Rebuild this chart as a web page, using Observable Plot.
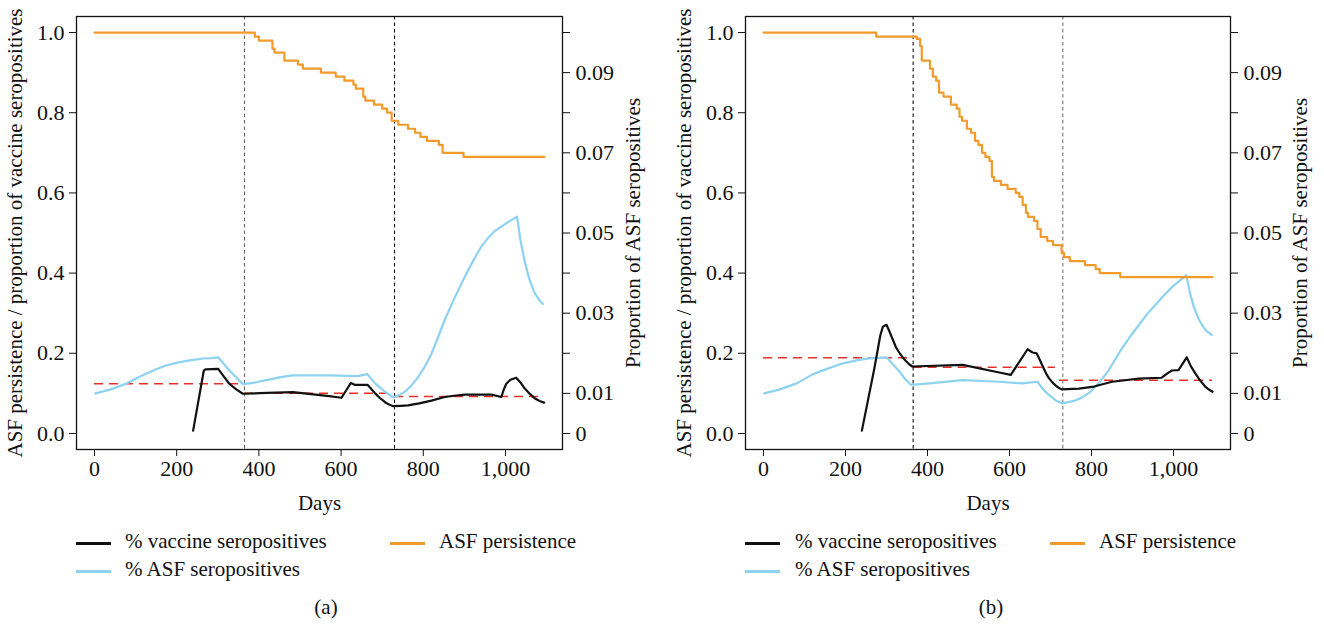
<!DOCTYPE html>
<html>
<head>
<meta charset="utf-8">
<script src="https://cdn.jsdelivr.net/npm/d3@7"></script>
<script src="https://cdn.jsdelivr.net/npm/@observablehq/plot@0.6"></script>
<style>
  body { margin: 0; background: #fff; font-family: "Liberation Serif", "DejaVu Serif", serif; }
  #wrap { position: relative; width: 1324px; height: 627px; overflow: hidden; }
  .panel { position: absolute; top: 0; width: 662px; height: 627px; }
  .panel svg { overflow: visible; font-family: "Liberation Serif", serif !important; }
  .sw { position: absolute; height: 2.5px; }
  .lt { position: absolute; font-size: 21px; line-height: 21px; white-space: nowrap; color: #111; }
  .cap { position: absolute; font-size: 21px; line-height: 21px; transform: translateX(-50%); color: #111; }
</style>
</head>
<body>
<div id="wrap"></div>
<script>
// ---------- shared axis values ----------
const xTicks = [0, 200, 400, 600, 800, 1000];
const leftTicks = [0, 0.2, 0.4, 0.6, 0.8, 1.0];
const rightTicks = [0, 0.01, 0.02, 0.03, 0.04, 0.05, 0.06, 0.07, 0.08, 0.09, 0.10];
const rightLabelled = [0, 0.01, 0.03, 0.05, 0.07, 0.09];
const yearMarks = [365, 730];
const xTitle = "Days";
const leftTitle = "ASF persistence / proportion of vaccine seropositives";
const rightTitle = "Proportion of ASF seropositives";
const legendLabels = ["% vaccine seropositives", "% ASF seropositives", "ASF persistence"];
const legendColors = ["#111111", "#8DD3F1", "#F39A2C"];
const captions = ["(a)", "(b)"];

// ---------- panel (a) ----------
// ASF persistence: [day, value] step change points
const aPersistence = [[0,1.0],[390,0.99],[400,0.98],[433,0.96],[438,0.95],[462,0.93],[495,0.92],[507,0.91],
  [551,0.90],[587,0.89],[608,0.88],[630,0.87],[636,0.86],[654,0.84],[659,0.83],[680,0.82],[700,0.81],
  [712,0.80],[723,0.78],[739,0.77],[763,0.76],[780,0.75],[793,0.74],[809,0.73],[838,0.72],[847,0.70],
  [898,0.69],[1095,0.69]];
// proportion of vaccine seropositives (left axis)
const aVaccine = [[240,0.007],[266,0.157],[270,0.160],[301,0.161],[314,0.143],[328,0.124],[345,0.110],
  [361,0.099],[420,0.101],[483,0.103],[571,0.093],[601,0.089],[624,0.126],[634,0.121],[665,0.121],
  [683,0.100],[695,0.088],[707,0.078],[717,0.072],[727,0.068],[745,0.069],[763,0.070],[790,0.075],
  [820,0.082],[852,0.091],[875,0.094],[901,0.097],[966,0.097],[990,0.091],[996,0.110],[1002,0.124],
  [1012,0.134],[1026,0.139],[1036,0.128],[1047,0.112],[1060,0.098],[1071,0.088],[1083,0.081],
  [1094,0.077]];
// proportion of ASF seropositives (right axis)
const aAsf = [[2,0.0100],[40,0.0110],[79,0.0125],[111,0.0142],[150,0.0160],[176,0.0170],[200,0.0176],
  [224,0.0181],[245,0.0184],[265,0.0187],[285,0.0188],[301,0.0190],[330,0.0155],[361,0.0123],
  [390,0.0127],[418,0.0133],[450,0.0140],[482,0.0145],[571,0.0145],[640,0.0143],[664,0.0148],
  [683,0.0125],[707,0.0104],[727,0.0090],[740,0.0095],[755,0.0104],[770,0.0118],[788,0.0141],
  [804,0.0167],[820,0.0199],[836,0.0240],[852,0.0283],[875,0.0335],[897,0.0383],[920,0.0428],
  [941,0.0466],[958,0.0488],[973,0.0504],[1000,0.0523],[1028,0.0541],[1037,0.0480],[1046,0.0433],
  [1058,0.0385],[1071,0.0350],[1082,0.0333],[1091,0.0323]];
// mean vaccine seroprevalence per year (red dashed)
const aMeans = [[0,365,0.124],[365,730,0.100],[730,1095,0.092]];

// ---------- panel (b) ----------
const bPersistence = [[0,1.0],[275,0.99],[374,0.984],[382,0.966],[386,0.93],[406,0.91],[413,0.89],
  [421,0.88],[428,0.85],[439,0.84],[457,0.82],[471,0.81],[478,0.79],[484,0.78],[496,0.76],[506,0.75],
  [516,0.73],[524,0.72],[533,0.70],[541,0.69],[551,0.68],[557,0.64],[562,0.63],[579,0.62],[595,0.61],
  [615,0.60],[624,0.59],[632,0.57],[640,0.55],[645,0.54],[660,0.53],[668,0.51],[676,0.49],[692,0.48],
  [706,0.47],[727,0.45],[733,0.44],[747,0.43],[784,0.42],[810,0.41],[820,0.40],[870,0.39],[1095,0.39]];
const bVaccine = [[240,0.007],[270,0.160],[285,0.245],[291,0.266],[300,0.271],[307,0.255],[315,0.235],
  [323,0.215],[332,0.200],[340,0.189],[348,0.180],[356,0.172],[363,0.167],[486,0.171],[575,0.152],
  [603,0.146],[644,0.210],[656,0.202],[666,0.200],[674,0.183],[682,0.165],[689,0.150],[696,0.138],
  [704,0.128],[712,0.120],[720,0.114],[727,0.110],[769,0.112],[806,0.117],[850,0.129],[915,0.137],
  [971,0.139],[985,0.150],[996,0.157],[1012,0.158],[1032,0.190],[1042,0.168],[1053,0.150],
  [1065,0.132],[1077,0.117],[1087,0.109],[1095,0.104]];
const bAsf = [[2,0.0100],[40,0.0110],[81,0.0125],[121,0.0148],[160,0.0163],[194,0.0175],[230,0.0183],
  [259,0.01875],[300,0.0190],[316,0.0172],[332,0.0154],[346,0.0135],[360,0.0121],[405,0.0125],
  [486,0.0133],[575,0.0129],[631,0.0125],[668,0.0129],[682,0.0110],[696,0.0096],[712,0.0083],
  [729,0.0075],[760,0.0082],[777,0.0090],[795,0.0102],[810,0.0117],[826,0.0136],[842,0.0158],
  [858,0.0185],[874,0.02125],[895,0.0243],[915,0.0270],[935,0.0297],[955,0.0320],[975,0.0343],
  [996,0.0365],[1015,0.0381],[1031,0.0395],[1040,0.0350],[1049,0.0317],[1059,0.0290],[1069,0.0271],
  [1080,0.0256],[1093,0.0246]];
const bMeans = [[0,365,0.189],[365,712,0.165],[722,1095,0.133]];

// ---------- drawing ----------
const RIGHT_FACTOR = 10; // right axis = left axis / 10
const fmtRight = d => {
  const k = Math.round(d / RIGHT_FACTOR * 100);
  if (!rightLabelled.some(v => Math.round(v * 100) === k)) return "";
  return k === 0 ? "0" : (k / 100).toFixed(2);
};
const TICK_FS = 22, TITLE_FS = 21;

function panel(cfg) {
  return Plot.plot({
    width: 662, height: 520,
    marginLeft: cfg.ml, marginRight: cfg.mr, marginTop: 16, marginBottom: 71,
    style: { fontFamily: '"Liberation Serif", serif', fontSize: "21px", color: "#111", background: "transparent", overflow: "visible" },
    x: { domain: [-43.8, 1138.8] },
    y: { domain: [-0.04, 1.04] },
    marks: [
      Plot.axisX({ ticks: xTicks, tickFormat: d3.format(","), tickSize: 7, tickPadding: 4, fontSize: TICK_FS, label: null }),
      Plot.axisY({ anchor: "left", ticks: leftTicks, tickFormat: d3.format(".1f"), tickSize: 7, tickPadding: 5, fontSize: TICK_FS, label: null }),
      Plot.axisY({ anchor: "right", ticks: rightTicks.map(v => v * RIGHT_FACTOR), tickFormat: fmtRight, tickSize: 7, tickPadding: 6, fontSize: TICK_FS, label: null }),
      Plot.text([xTitle], { frameAnchor: "bottom", dy: 54, text: d => d, fontSize: TITLE_FS, textAnchor: "middle", lineAnchor: "middle", fill: "#111" }),
      Plot.text([leftTitle], { frameAnchor: "left", dx: -61, rotate: -90, text: d => d, fontSize: TITLE_FS, textAnchor: "middle", lineAnchor: "middle", fill: "#111" }),
      Plot.text([rightTitle], { frameAnchor: "right", dx: cfg.rt, rotate: -90, text: d => d, fontSize: TITLE_FS, textAnchor: "middle", lineAnchor: "middle", fill: "#111" }),
      Plot.ruleY(cfg.means, { x1: d => d[0], x2: d => d[1], y: d => d[2], stroke: "#E8302A", strokeWidth: 1.5, strokeDasharray: "9,6" }),
      Plot.ruleX(yearMarks, { x: d => d, stroke: (d, i) => cfg.vcolors[i], strokeWidth: 1.1, strokeDasharray: "3.5,3" }),
      Plot.line(cfg.asf, { x: d => d[0], y: d => d[1] * RIGHT_FACTOR, stroke: legendColors[1], strokeWidth: 2.2 }),
      Plot.line(cfg.vaccine, { x: d => d[0], y: d => d[1], stroke: legendColors[0], strokeWidth: 2.2 }),
      Plot.line(cfg.persistence, { x: d => d[0], y: d => d[1], stroke: legendColors[2], strokeWidth: 2.2, curve: "step-after" }),
      Plot.frame({ stroke: "#111", strokeWidth: 1.3 })
    ]
  });
}

const wrap = document.getElementById("wrap");
const cfgs = [
  { left: 0, ml: 76, mr: 100, rt: 71, means: aMeans, asf: aAsf, vaccine: aVaccine, persistence: aPersistence,
    vcolors: ["#666", "#111"], leg: { sw1: 76, t1: 125, sw2: 390, t2: 439, cap: 326 } },
  { left: 662, ml: 83, mr: 94, rt: 70, means: bMeans, asf: bAsf, vaccine: bVaccine, persistence: bPersistence,
    vcolors: ["#111", "#777"], leg: { sw1: 83, t1: 133, sw2: 388, t2: 437, cap: 329 } }
];
cfgs.forEach((cfg, p) => {
  const div = document.createElement("div");
  div.className = "panel";
  div.style.left = cfg.left + "px";
  div.appendChild(panel(cfg));
  const items = [
    { sw: cfg.leg.sw1, t: cfg.leg.t1, y: 543, i: 0 },
    { sw: cfg.leg.sw1, t: cfg.leg.t1, y: 571, i: 1 },
    { sw: cfg.leg.sw2, t: cfg.leg.t2, y: 543, i: 2 }
  ];
  items.forEach(it => {
    const s = document.createElement("div");
    s.className = "sw";
    s.style.left = it.sw + "px"; s.style.width = "35px"; s.style.top = (it.y - 1) + "px";
    s.style.background = legendColors[it.i];
    div.appendChild(s);
    const t = document.createElement("div");
    t.className = "lt";
    t.style.left = it.t + "px"; t.style.top = (it.y - 12) + "px";
    t.textContent = legendLabels[it.i];
    div.appendChild(t);
  });
  const c = document.createElement("div");
  c.className = "cap";
  c.style.left = cfg.leg.cap + "px"; c.style.top = "597px";
  c.textContent = captions[p];
  div.appendChild(c);
  wrap.appendChild(div);
});
</script>
</body>
</html>
